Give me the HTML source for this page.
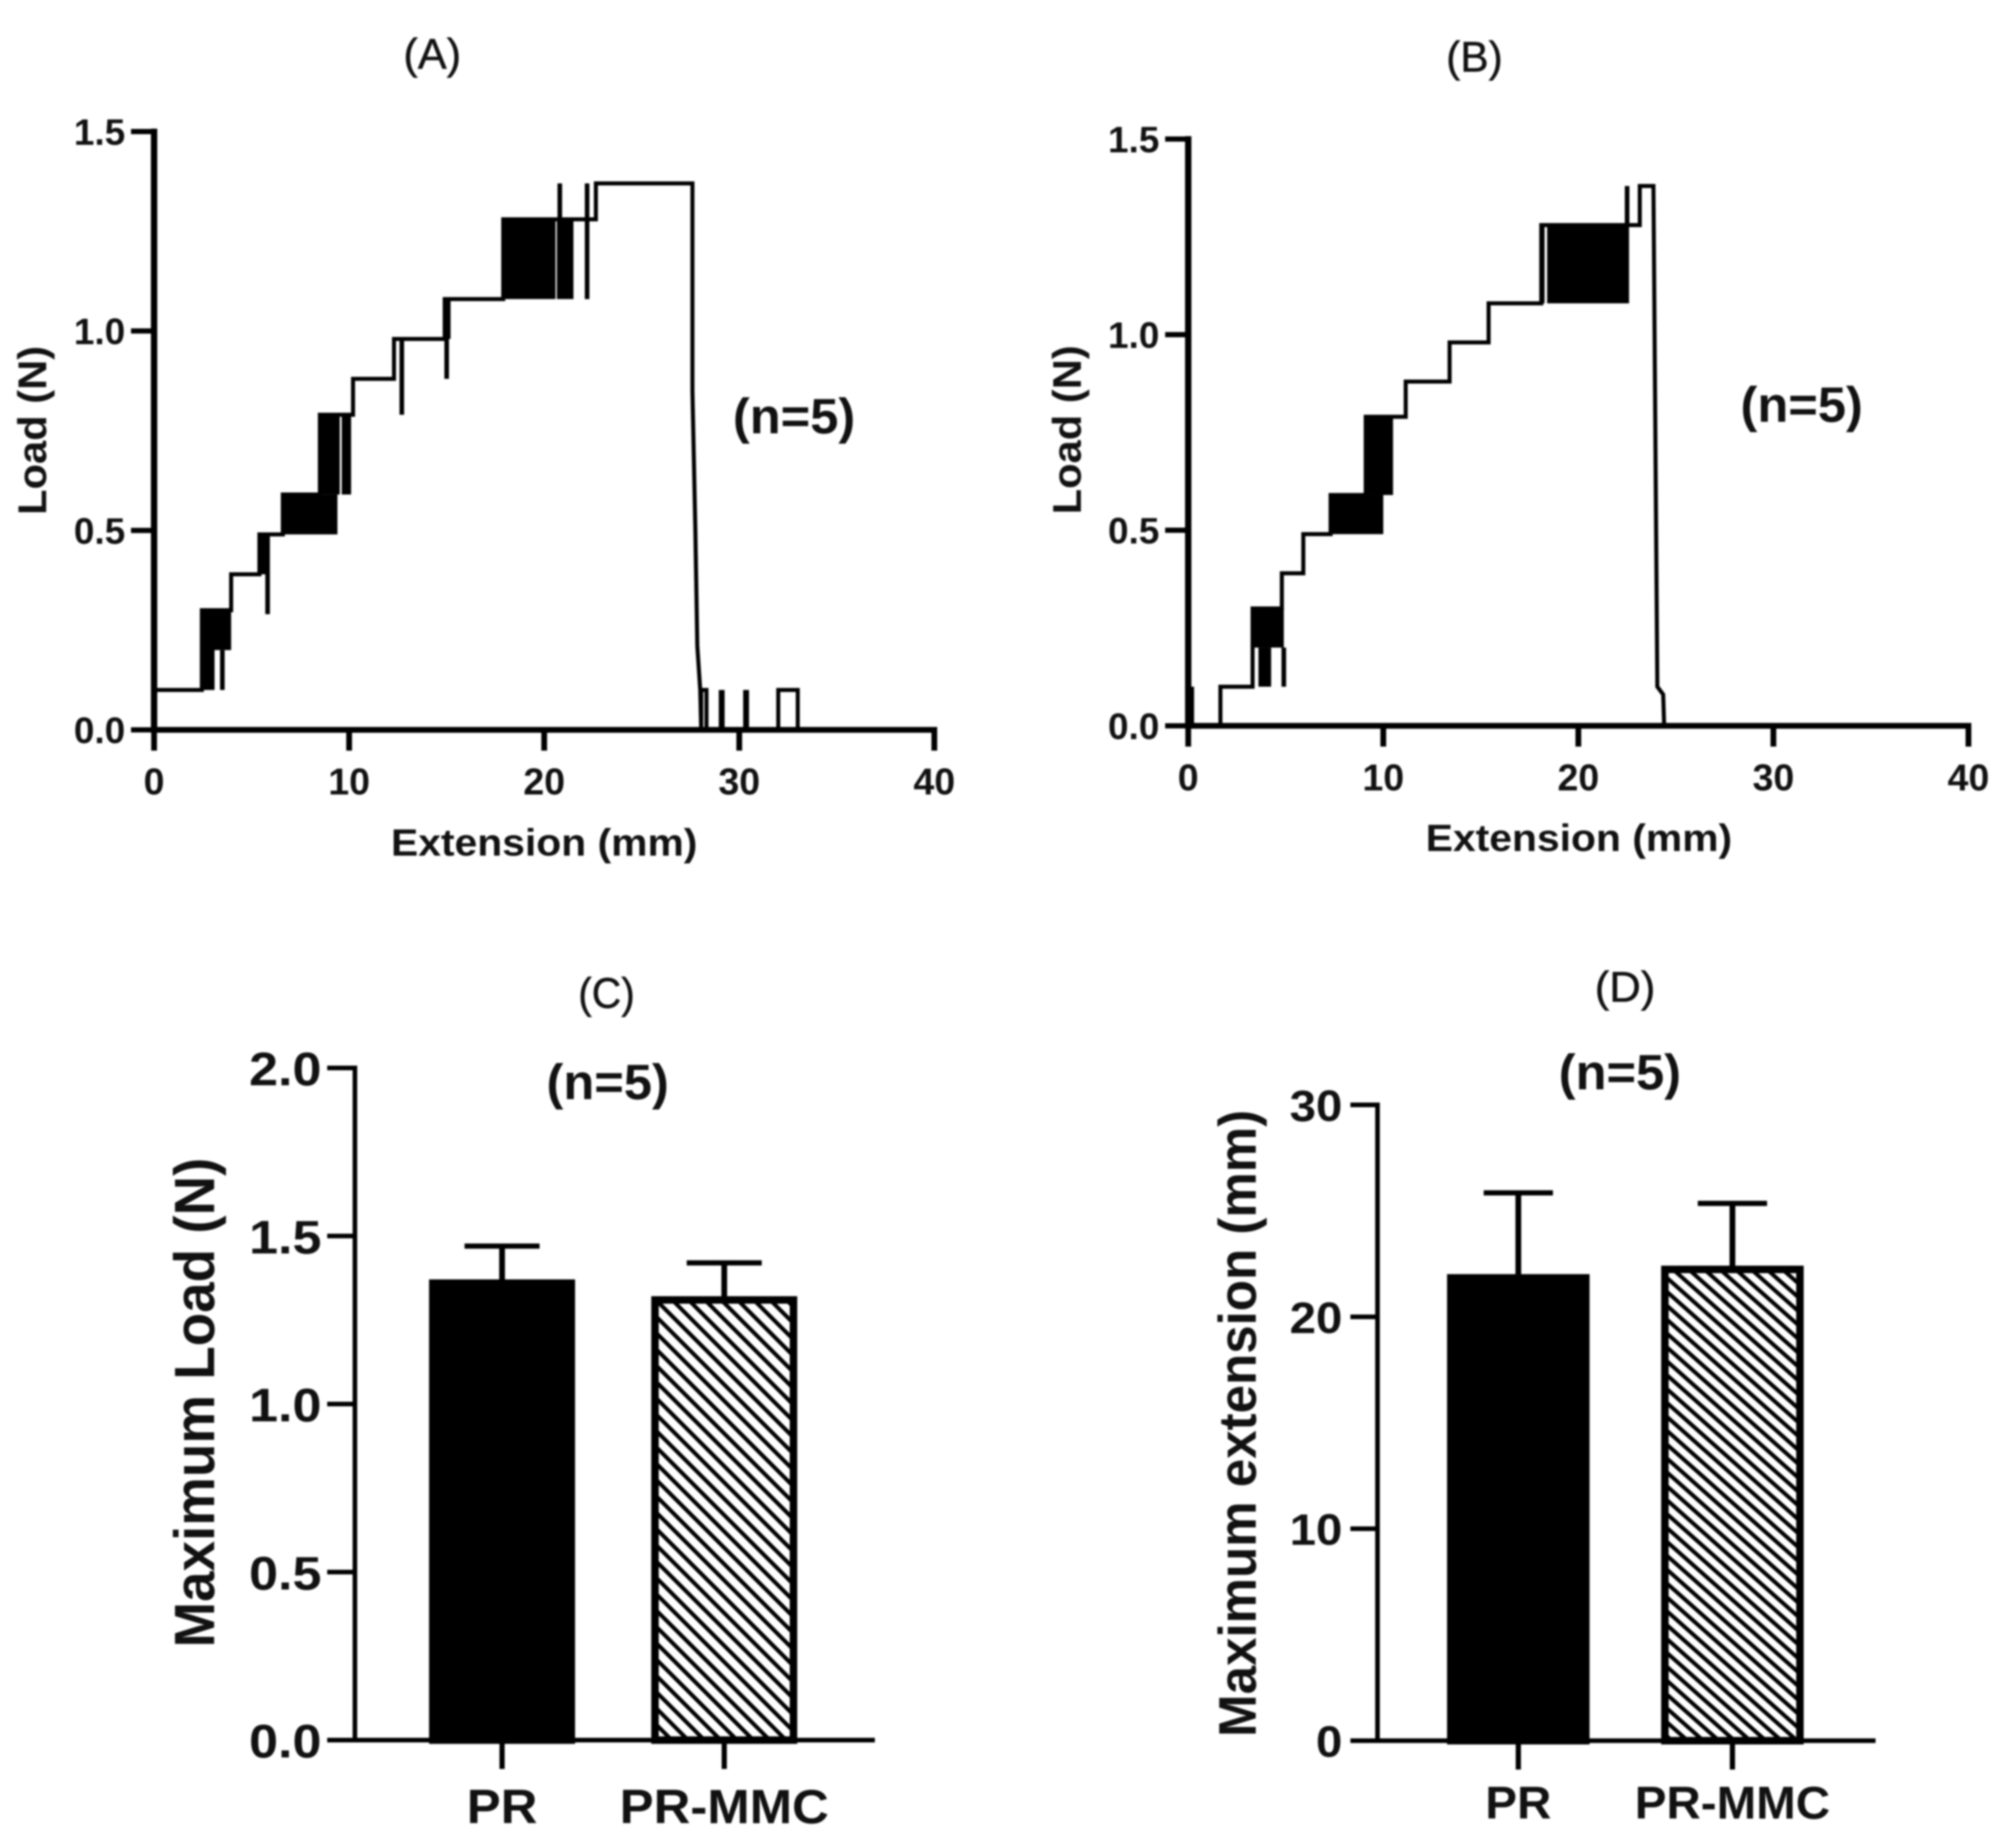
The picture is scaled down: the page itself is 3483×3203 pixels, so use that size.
<!DOCTYPE html>
<html lang="en">
<head>
<meta charset="utf-8">
<title>Load and extension charts</title>
<style>
html,body{margin:0;padding:0;background:#fff;}
body{width:3483px;height:3203px;overflow:hidden;}
svg{display:block;filter:blur(1.6px);}
text{font-family:"Liberation Sans",sans-serif;fill:#111;}
.b{font-weight:bold;}
.t{stroke:#111;stroke-width:0.8px;}
</style>
</head>
<body>
<svg id="fig" xmlns="http://www.w3.org/2000/svg" width="3483" height="3203" viewBox="0 0 3483 3203">
  <defs>
    <pattern id="hatchC" patternUnits="userSpaceOnUse" width="20" height="20" patternTransform="rotate(45)">
      <rect width="20" height="20" fill="#fff"/><rect y="6" width="20" height="7" fill="#000"/>
    </pattern>
    <pattern id="hatchD" patternUnits="userSpaceOnUse" width="18" height="18" patternTransform="rotate(41.6)">
      <rect width="18" height="18" fill="#fff"/><rect y="5" width="18" height="7" fill="#000"/>
    </pattern>
  </defs>
  <rect width="3483" height="3203" fill="#fff"/>

  <text class="t" x="749" y="119" font-size="74" text-anchor="middle" textLength="100" lengthAdjust="spacingAndGlyphs">(A)</text>
  <text class="t" x="2555" y="124" font-size="74" text-anchor="middle" textLength="98" lengthAdjust="spacingAndGlyphs">(B)</text>
  <text class="t" x="1051" y="1747" font-size="74" text-anchor="middle" textLength="98" lengthAdjust="spacingAndGlyphs">(C)</text>
  <text class="t" x="2816" y="1736" font-size="74" text-anchor="middle" textLength="105" lengthAdjust="spacingAndGlyphs">(D)</text>

  <text class="b" x="1376" y="751" font-size="86" text-anchor="middle" textLength="212" lengthAdjust="spacingAndGlyphs">(n=5)</text>
  <text class="b" x="3122" y="731" font-size="86" text-anchor="middle" textLength="212" lengthAdjust="spacingAndGlyphs">(n=5)</text>
  <text class="b" x="1053" y="1905" font-size="86" text-anchor="middle" textLength="212" lengthAdjust="spacingAndGlyphs">(n=5)</text>
  <text class="b" x="2807" y="1888" font-size="86" text-anchor="middle" textLength="212" lengthAdjust="spacingAndGlyphs">(n=5)</text>

  <text class="b" x="943" y="1483" font-size="66" text-anchor="middle" textLength="531" lengthAdjust="spacingAndGlyphs">Extension (mm)</text>
  <text class="b" transform="translate(80 746) rotate(-90)" font-size="70" text-anchor="middle" textLength="293" lengthAdjust="spacingAndGlyphs">Load (N)</text>
  <text class="b" x="2736" y="1475" font-size="66" text-anchor="middle" textLength="531" lengthAdjust="spacingAndGlyphs">Extension (mm)</text>
  <text class="b" transform="translate(1873 745) rotate(-90)" font-size="70" text-anchor="middle" textLength="293" lengthAdjust="spacingAndGlyphs">Load (N)</text>
  <text class="b" transform="translate(371 2431) rotate(-90)" font-size="98" text-anchor="middle" textLength="849" lengthAdjust="spacingAndGlyphs">Maximum Load (N)</text>
  <text class="b" transform="translate(2176 2467) rotate(-90)" font-size="92" text-anchor="middle" textLength="1087" lengthAdjust="spacingAndGlyphs">Maximum extension (mm)</text>

  <g id="panelA"></g>
  <g id="panelB"></g>
  <g id="panelC"></g>
  <g id="panelD"></g>
</svg>

<script>
// Shared tick values for the two load-extension traces
const lineXTicks = [0, 10, 20, 30, 40];
const lineXTickLabels = ['0', '10', '20', '30', '40'];
const lineYTicks = [0, 0.5, 1, 1.5];
const lineYTickLabels = ['0.0', '0.5', '1.0', '1.5'];

// Panel A: load-extension trace
const aExtension = [0, 2.45, 2.45, 3.95, 3.95, 5.4, 5.4, 6.6, 6.6, 8.5, 8.5, 10.2, 10.2, 12.3, 12.3, 14.9, 14.9, 17.9, 17.9, 22.65, 22.65, 27.6, 27.6, 27.75, 27.85, 28.0, 28.05, 28.05, 28.32, 28.32, 32, 32, 33, 33, 40];
const aLoad = [0.1, 0.1, 0.3, 0.3, 0.39, 0.39, 0.49, 0.49, 0.59, 0.59, 0.79, 0.79, 0.88, 0.88, 0.98, 0.98, 1.08, 1.08, 1.28, 1.28, 1.37, 1.37, 0.85, 0.5, 0.21, 0.1, 0, 0.1, 0.1, 0, 0, 0.1, 0.1, 0, 0];
// Panel A: dense oscillation regions (solid black blocks)
const aBandStart = [2.45, 2.45, 5.4, 6.6, 8.5, 9.62, 14.85, 17.9, 20.65, 28.95, 30.2];
const aBandEnd = [3.1, 3.95, 5.9, 9.4, 9.52, 10.1, 15.2, 20.58, 21.5, 29.25, 30.5];
const aBandLow = [0.1, 0.2, 0.39, 0.49, 0.59, 0.59, 0.98, 1.08, 1.08, 0, 0];
const aBandHigh = [0.3, 0.3, 0.49, 0.59, 0.79, 0.79, 1.08, 1.28, 1.28, 0.1, 0.1];
// Panel A: single excursions
const aSpikeAt = [3.5, 5.82, 12.7, 15.0, 20.8, 22.2];
const aSpikeLow = [0.1, 0.29, 0.79, 0.88, 1.28, 1.08];
const aSpikeHigh = [0.2, 0.49, 0.98, 1.08, 1.37, 1.37];

// Panel B: load-extension trace
const bExtension = [0, 1.65, 1.65, 3.3, 3.3, 4.8, 4.8, 5.9, 5.9, 7.3, 7.3, 9.1, 9.1, 11.15, 11.15, 13.4, 13.4, 15.4, 15.4, 18.1, 18.1, 23.15, 23.15, 23.85, 24.05, 24.35, 24.4, 40];
const bLoad = [0, 0, 0.1, 0.1, 0.3, 0.3, 0.39, 0.39, 0.49, 0.49, 0.59, 0.59, 0.79, 0.79, 0.88, 0.88, 0.98, 0.98, 1.08, 1.08, 1.28, 1.28, 1.38, 1.38, 0.1, 0.08, 0, 0];
const bBandStart = [0, 3.3, 3.6, 7.3, 9.1, 18.4];
const bBandEnd = [0.3, 4.9, 4.25, 10.0, 10.5, 22.6];
const bBandLow = [0, 0.2, 0.1, 0.49, 0.59, 1.08];
const bBandHigh = [0.1, 0.3, 0.2, 0.59, 0.79, 1.28];
const bSpikeAt = [4.9, 18.15, 22.5];
const bSpikeLow = [0.1, 1.08, 1.28];
const bSpikeHigh = [0.2, 1.28, 1.38];

// Panel C: maximum load bars
const cCategories = ['PR', 'PR-MMC'];
const cValues = [1.37, 1.32];
const cErrors = [0.10, 0.10];
const cTicks = [0, 0.5, 1, 1.5, 2];
const cTickLabels = ['0.0', '0.5', '1.0', '1.5', '2.0'];

// Panel D: maximum extension bars
const dCategories = ['PR', 'PR-MMC'];
const dValues = [22.0, 22.4];
const dErrors = [3.85, 2.95];
const dTicks = [0, 10, 20, 30];
const dTickLabels = ['0', '10', '20', '30'];

const SVGNS = 'http://www.w3.org/2000/svg';

function mk(tag, attrs, parent, name) {
  const el = document.createElementNS(SVGNS, tag);
  for (const k in attrs) el.setAttribute(k, attrs[k]);
  
  
  parent.appendChild(el);
  return el;
}

function scale(d0, d1, r0, r1) {
  return function (v) { return r0 + (v - d0) * (r1 - r0) / (d1 - d0); };
}

function drawLinePanel(g, sx, sy, ex, load, bStart, bEnd, bLow, bHigh, spAt, spLow, spHigh, p) {
  // trace
  for (let i = 0; i < bStart.length; i++) {
    mk('rect', {
      x: sx(bStart[i]), y: sy(bHigh[i]),
      width: sx(bEnd[i]) - sx(bStart[i]),
      height: sy(bLow[i]) - sy(bHigh[i]),
      fill: '#000'
    }, g, 'oscillation-block');
  }
  for (let i = 0; i < spAt.length; i++) {
    mk('line', {
      x1: sx(spAt[i]), x2: sx(spAt[i]),
      y1: sy(spLow[i]), y2: sy(spHigh[i]),
      stroke: '#000', 'stroke-width': 8
    }, g, 'load-spike');
  }
  const pts = ex.map(function (v, i) { return sx(v) + ',' + sy(load[i]); }).join(' ');
  mk('polyline', {
    points: pts, fill: 'none', stroke: '#000',
    'stroke-width': 7, 'stroke-linejoin': 'miter'
  }, g, 'load-extension-line');

  // axes
  mk('line', {
    x1: sx(0), x2: sx(0),
    y1: sy(1.5) - 5, y2: sy(0) + 5,
    stroke: '#000', 'stroke-width': 11
  }, g, 'y-axis');
  mk('line', {
    x1: sx(0), x2: sx(40) + 5,
    y1: sy(0), y2: sy(0),
    stroke: '#000', 'stroke-width': 10
  }, g, 'x-axis');
  lineYTicks.forEach(function (t, i) {
    mk('line', {
      x1: sx(0) - 40, x2: sx(0),
      y1: sy(t), y2: sy(t),
      stroke: '#000', 'stroke-width': 9
    }, g, 'y-tick');
    const lab = mk('text', {
      x: sx(0) - 50, y: sy(t) + 23,
      'font-size': 64, 'text-anchor': 'end', 'class': 'b'
    }, g, 'y-tick-label');
    lab.textContent = lineYTickLabels[i];
  });
  lineXTicks.forEach(function (t, i) {
    mk('line', {
      x1: sx(t), x2: sx(t),
      y1: sy(0), y2: sy(0) + 36,
      stroke: '#000', 'stroke-width': 10
    }, g, 'x-tick');
    const lab = mk('text', {
      x: sx(t), y: p.xLabelY,
      'font-size': 65, 'text-anchor': 'middle', 'class': 'b'
    }, g, 'x-tick-label');
    lab.textContent = lineXTickLabels[i];
  });
}

function drawBarPanel(g, sy, cats, vals, errs, ticks, labels, p) {
  const base = sy(ticks[0]);
  const top = sy(ticks[ticks.length - 1]);
  const center = function (i) { return p.firstCenter + i * p.step; };

  vals.forEach(function (v, i) {
    const cx = center(i);
    mk('line', {
      x1: cx, x2: cx, y1: sy(v), y2: sy(v + errs[i]),
      stroke: '#000', 'stroke-width': 10
    }, g, 'error-bar-stem');
    mk('line', {
      x1: cx - p.cap, x2: cx + p.cap, y1: sy(v + errs[i]), y2: sy(v + errs[i]),
      stroke: '#000', 'stroke-width': 9
    }, g, 'error-bar-cap');
    mk('rect', {
      x: cx - p.barW / 2 + 6, y: sy(v) + 6,
      width: p.barW - 12, height: base - sy(v) - 6,
      fill: i === 0 ? '#000' : 'url(#' + p.hatch + ')',
      stroke: '#000', 'stroke-width': 13
    }, g, i === 0 ? 'bar-pr' : 'bar-pr-mmc');
    mk('line', {
      x1: cx, x2: cx, y1: base, y2: base + 50,
      stroke: '#000', 'stroke-width': 9
    }, g, 'x-tick');
    const lab = mk('text', {
      transform: 'translate(' + cx + ' ' + p.catY + ') scale(' + p.catStretch + ' 1)',
      'font-size': p.catFont, 'text-anchor': 'middle', 'class': 'b'
    }, g, 'category-label');
    lab.textContent = cats[i];
  });

  mk('line', {
    x1: p.axisX, x2: p.axisX, y1: top - 4, y2: base + 4,
    stroke: '#000', 'stroke-width': 8
  }, g, 'y-axis');
  mk('line', {
    x1: p.axisX - p.tick, x2: p.axisEnd, y1: base, y2: base,
    stroke: '#000', 'stroke-width': 8
  }, g, 'x-axis');
  ticks.forEach(function (t, i) {
    mk('line', {
      x1: p.axisX - p.tick, x2: p.axisX, y1: sy(t), y2: sy(t),
      stroke: '#000', 'stroke-width': 8
    }, g, 'y-tick');
    const lab = mk('text', {
      transform: 'translate(' + (p.axisX - p.tick - p.labelGap) + ' ' + (sy(t) + p.labelDrop) + ') scale(' + p.labelStretch + ' 1)',
      'font-size': p.labelFont, 'text-anchor': 'end', 'class': 'b'
    }, g, 'y-tick-label');
    lab.textContent = labels[i];
  });
}

drawLinePanel(document.getElementById('panelA'),
  scale(0, 40, 267, 1619), scale(0, 1.5, 1265, 228),
  aExtension, aLoad, aBandStart, aBandEnd, aBandLow, aBandHigh,
  aSpikeAt, aSpikeLow, aSpikeHigh, { xLabelY: 1377 });

drawLinePanel(document.getElementById('panelB'),
  scale(0, 40, 2059, 3411), scale(0, 1.5, 1258, 241),
  bExtension, bLoad, bBandStart, bBandEnd, bBandLow, bBandHigh,
  bSpikeAt, bSpikeLow, bSpikeHigh, { xLabelY: 1370 });

drawBarPanel(document.getElementById('panelC'),
  scale(0, 2, 3016, 1851),
  cCategories, cValues, cErrors, cTicks, cTickLabels,
  { firstCenter: 870, step: 385, barW: 252, cap: 65, hatch: 'hatchC', catY: 3160, catFont: 84, catStretch: 1.05,
    axisX: 615, axisEnd: 1516, tick: 48, labelGap: 10, labelDrop: 30, labelFont: 82, labelStretch: 1.1 });

drawBarPanel(document.getElementById('panelD'),
  scale(0, 30, 3017, 1915),
  dCategories, dValues, dErrors, dTicks, dTickLabels,
  { firstCenter: 2631, step: 371, barW: 246, cap: 60, hatch: 'hatchD', catY: 3152, catFont: 80, catStretch: 1.03,
    axisX: 2387, axisEnd: 3250, tick: 47, labelGap: 14, labelDrop: 28, labelFont: 76, labelStretch: 1.08 });
</script>
</body>
</html>
